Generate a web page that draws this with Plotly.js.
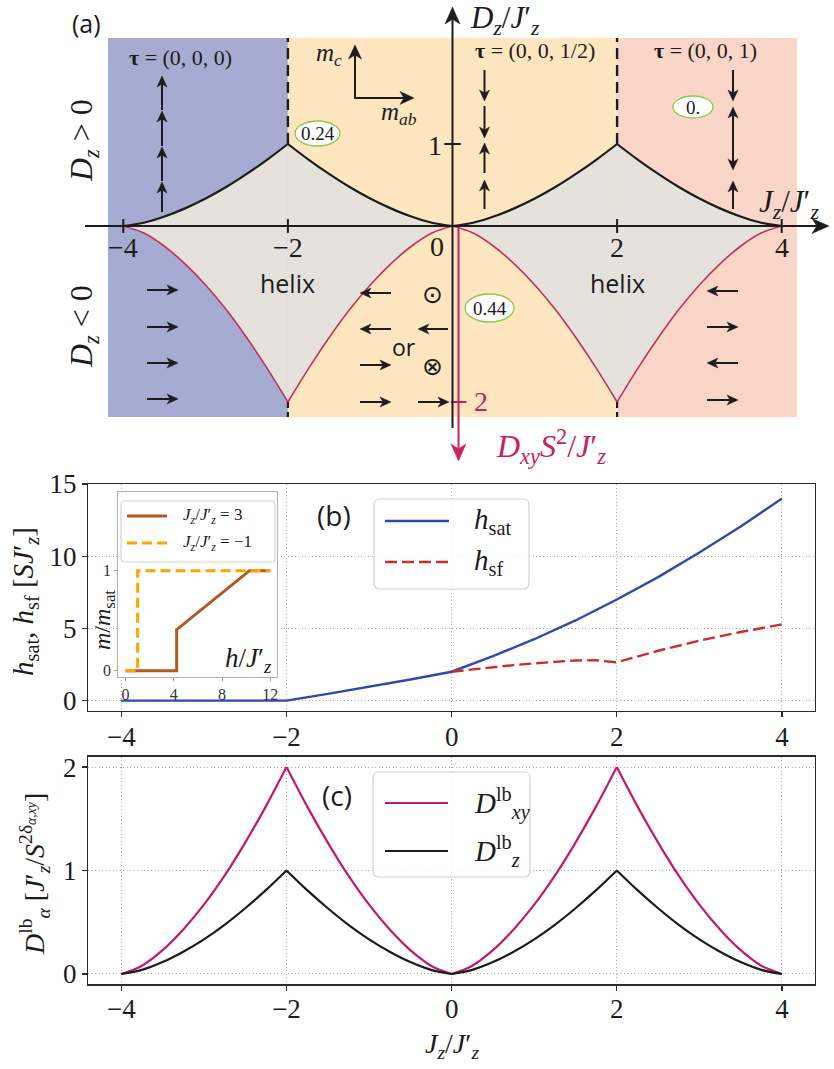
<!DOCTYPE html>
<html>
<head>
<meta charset="utf-8">
<script src="https://cdn.plot.ly/plotly-3.0.1.min.js"></script>
<style>
  html, body { margin: 0; padding: 0; background: #fff; }
  #fig { width: 834px; height: 1069px; }
</style>
</head>
<body>
<div id="fig"></div>
<script>
// ---------------- data ----------------
// J_z / J'_z grid shared by the phase boundaries (a) and the lower bounds (c)
const jz = [-4, -3.75, -3.5, -3.25, -3, -2.75, -2.5, -2.25, -2, -1.75, -1.5, -1.25, -1, -0.75, -0.5, -0.25,
            0, 0.25, 0.5, 0.75, 1, 1.25, 1.5, 1.75, 2, 2.25, 2.5, 2.75, 3, 3.25, 3.5, 3.75, 4];
// lower bound of D_z (upper helix boundary in (a))
const dzLb = [0, 0.04, 0.115, 0.215, 0.335, 0.475, 0.635, 0.81, 1.0, 0.81, 0.635, 0.475, 0.335, 0.215, 0.115, 0.04,
              0, 0.04, 0.115, 0.215, 0.335, 0.475, 0.635, 0.81, 1.0, 0.81, 0.635, 0.475, 0.335, 0.215, 0.115, 0.04, 0];
// lower bound of D_xy S^2 (lower helix boundary in (a))
const dxyLb = [0, 0.08, 0.23, 0.43, 0.67, 0.95, 1.27, 1.62, 2.0, 1.62, 1.27, 0.95, 0.67, 0.43, 0.23, 0.08,
               0, 0.08, 0.23, 0.43, 0.67, 0.95, 1.27, 1.62, 2.0, 1.62, 1.27, 0.95, 0.67, 0.43, 0.23, 0.08, 0];
// monotone pieces between the cusps (index ranges into jz)
const pieces = [[0, 8], [8, 16], [16, 24], [24, 32]];

// saturation and spin-flop fields, panel (b)
const jzSat = [-4, -3, -2, -1.5, -1, -0.5, 0, 0.5, 1, 1.5, 2, 2.5, 3, 3.5, 4];
const hSat  = [0, 0, 0, 0.47, 0.95, 1.46, 2.0, 3.08, 4.25, 5.55, 7.0, 8.55, 10.25, 12.05, 14.0];
const jzSf  = [0, 0.25, 0.5, 0.75, 1, 1.25, 1.5, 1.75, 2, 2.5, 3, 3.5, 4];
const hSf   = [2.0, 2.17, 2.32, 2.46, 2.58, 2.69, 2.78, 2.79, 2.65, 3.45, 4.15, 4.75, 5.28];

// magnetisation curves of the inset
const hJ3  = [0, 4.24, 4.24, 10.28, 12];   // J_z/J'_z = 3
const mJ3  = [0, 0, 0.41, 1, 1];
const hJm1 = [0, 1, 1, 12];                // J_z/J'_z = -1
const mJm1 = [0, 0, 1, 1];

// tick values and labels
const jzTicks = [-4, -2, 0, 2, 4];
const jzTickText = ['\u22124', '\u22122', '0', '2', '4'];
const hTicks = [0, 5, 10, 15];
const dTicks = [0, 1, 2];
const insetHTicks = [0, 4, 8, 12];
const insetMTicks = [0, 1];

// ---------------- styling ----------------
const SERIF = '"Liberation Serif", "DejaVu Serif", serif';
const SANS = '"Open Sans", "DejaVu Sans", sans-serif';
const INK = '#1c1c1c';
const GRAY = '#e5e2db', BLUE_BG = '#a6abd1', ORANGE_BG = '#fee6c0', PINK_BG = '#fad6c8';
const CRIMSON = '#c4305e', AXIS_PINK = '#c8205f', GREEN = '#8cc84b';
const BLUE = '#2e4aab', RED = '#cf2a2a', BROWN = '#b4581f', ORANGE = '#ffa500', MAG = '#c21a6a';

const W = 834, H = 1069;
const X = v => v / W;        // pixel column -> paper x
const Y = v => 1 - v / H;    // pixel row -> paper y

function txt(x, y, text, size, extra) {
  return Object.assign({
    xref: 'paper', yref: 'paper', x: X(x), y: Y(y), text: text, showarrow: false,
    xanchor: 'center', yanchor: 'middle',
    font: {family: SERIF, size: size, color: INK}
  }, extra || {});
}
// arrow from tail (tx,ty) to head (hx,hy) in page pixels: a shaft plus a notched, filled head
function arrow(tx, ty, hx, hy, opt) {
  opt = opt || {};
  const color = opt.color || INK, width = opt.width || 2, L = opt.len || 11, w = opt.half || 5;
  const n = Math.hypot(hx - tx, hy - ty), dx = (hx - tx) / n, dy = (hy - ty) / n;
  const bx = hx - L * dx, by = hy - L * dy;
  const nx = hx - 0.72 * L * dx, ny = hy - 0.72 * L * dy;
  const c1x = bx - w * dy, c1y = by + w * dx, c2x = bx + w * dy, c2y = by - w * dx;
  const p = (a, b) => X(a) + ',' + Y(b);
  return [
    {type: 'line', xref: 'paper', yref: 'paper', layer: 'above',
     x0: X(tx), y0: Y(ty), x1: X(nx), y1: Y(ny), line: {color: color, width: width}},
    {type: 'path', xref: 'paper', yref: 'paper', layer: 'above',
     path: 'M' + p(hx, hy) + 'L' + p(c1x, c1y) + 'L' + p(nx, ny) + 'L' + p(c2x, c2y) + 'Z',
     fillcolor: color, line: {color: color, width: 0.5}}
  ];
}
function roundBox(x0, y0, x1, y1, r) {
  const p = (a, b) => X(a) + ',' + Y(b);
  return {
    type: 'path', xref: 'paper', yref: 'paper', layer: 'above',
    path: 'M' + p(x0 + r, y0) + 'L' + p(x1 - r, y0) + 'Q' + p(x1, y0) + ' ' + p(x1, y0 + r) +
          'L' + p(x1, y1 - r) + 'Q' + p(x1, y1) + ' ' + p(x1 - r, y1) +
          'L' + p(x0 + r, y1) + 'Q' + p(x0, y1) + ' ' + p(x0, y1 - r) +
          'L' + p(x0, y0 + r) + 'Q' + p(x0, y0) + ' ' + p(x0 + r, y0) + 'Z',
    line: {color: '#d4d4d4', width: 1.2}, fillcolor: 'rgba(255,255,255,0.85)'
  };
}
function seg(x0, y0, x1, y1, color, width, dash) {
  return {type: 'line', xref: 'paper', yref: 'paper', layer: 'above',
          x0: X(x0), y0: Y(y0), x1: X(x1), y1: Y(y1),
          line: {color: color, width: width, dash: dash || 'solid'}};
}
function oval(x0, y0, x1, y1) {
  return {type: 'circle', xref: 'paper', yref: 'paper', layer: 'above',
          x0: X(x0), y0: Y(y1), x1: X(x1), y1: Y(y0),
          line: {color: GREEN, width: 1.3}, fillcolor: '#ffffff'};
}

// ---------------- traces ----------------
const traces = [];
// (a) helix region bounded by D_z^lb (above the axis) and D_xy^lb (below)
pieces.forEach(function (r) {
  traces.push({x: jz.slice(r[0], r[1] + 1), y: dzLb.slice(r[0], r[1] + 1), xaxis: 'x', yaxis: 'y',
               mode: 'lines', fill: 'tozeroy', fillcolor: GRAY, hoverinfo: 'skip', name: 'D_z^lb boundary',
               line: {color: INK, width: 2.2, shape: 'spline', smoothing: 1}});
  traces.push({x: jz.slice(r[0], r[1] + 1), y: dxyLb.slice(r[0], r[1] + 1), xaxis: 'x', yaxis: 'y2',
               mode: 'lines', fill: 'tozeroy', fillcolor: GRAY, hoverinfo: 'skip', name: 'D_xy^lb boundary',
               line: {color: CRIMSON, width: 1.6, shape: 'spline', smoothing: 1}});
});
// (b)
traces.push({x: jzSat, y: hSat, xaxis: 'x2', yaxis: 'y3', mode: 'lines', name: 'h_sat',
             line: {color: BLUE, width: 2.4}});
traces.push({x: jzSf, y: hSf, xaxis: 'x2', yaxis: 'y3', mode: 'lines', name: 'h_sf',
             line: {color: RED, width: 2.4, dash: '12px,5px'}});
// inset
traces.push({x: hJ3, y: mJ3, xaxis: 'x3', yaxis: 'y4', mode: 'lines', name: "Jz/Jz' = 3",
             line: {color: BROWN, width: 3}});
traces.push({x: hJm1, y: mJm1, xaxis: 'x3', yaxis: 'y4', mode: 'lines', name: "Jz/Jz' = -1",
             line: {color: ORANGE, width: 3, dash: '10px,5px'}});
// (c)
pieces.forEach(function (r) {
  traces.push({x: jz.slice(r[0], r[1] + 1), y: dxyLb.slice(r[0], r[1] + 1), xaxis: 'x4', yaxis: 'y5',
               mode: 'lines', name: 'D_xy^lb', line: {color: MAG, width: 2.2, shape: 'spline', smoothing: 1}});
});
pieces.forEach(function (r) {
  traces.push({x: jz.slice(r[0], r[1] + 1), y: dzLb.slice(r[0], r[1] + 1), xaxis: 'x4', yaxis: 'y5',
               mode: 'lines', name: 'D_z^lb', line: {color: INK, width: 2.2, shape: 'spline', smoothing: 1}});
});

// ---------------- axes ----------------
const frameAxis = {
  showline: true, mirror: true, linecolor: '#2b2b2b', linewidth: 1.4,
  ticks: 'outside', ticklen: 5, tickwidth: 1.3, tickcolor: '#2b2b2b',
  showgrid: true, gridcolor: '#a8a8a8', griddash: '1px,2.5px', gridwidth: 1, zeroline: false,
  tickfont: {family: SERIF, size: 27, color: INK}, fixedrange: true
};
const insetAxis = {
  showline: true, mirror: true, linecolor: '#b0b0b0', linewidth: 1,
  ticks: 'outside', ticklen: 3, tickwidth: 1, tickcolor: '#999',
  showgrid: false, zeroline: false,
  tickfont: {family: SERIF, size: 16, color: '#333'}, fixedrange: true
};

const layout = {
  width: W, height: H, margin: {l: 0, r: 0, t: 0, b: 0},
  paper_bgcolor: '#fff', plot_bgcolor: '#fff', showlegend: false,
  // (a) phase diagram: horizontal J_z, upward D_z, downward D_xy S^2
  xaxis:  {domain: [0, 1], range: [-5.4982, 4.6355], visible: false, fixedrange: true},
  yaxis:  {domain: [0.56034, 1], range: [-2.9756, 2.7561], visible: false, fixedrange: true},
  yaxis2: {overlaying: 'y', anchor: 'x', range: [2.7727, -2.5682], visible: false, fixedrange: true},
  // (b)
  xaxis2: Object.assign({}, frameAxis, {domain: [0.10588, 0.97722], range: [-4.4, 4.4], anchor: 'y3',
          tickvals: jzTicks, ticktext: jzTickText, ticklabelstandoff: -4}),
  yaxis3: Object.assign({}, frameAxis, {domain: [0.33517, 0.54724], range: [-0.7, 15], anchor: 'x2',
          tickvals: hTicks}),
  // inset of (b)
  xaxis3: Object.assign({}, insetAxis, {domain: [0.14185, 0.33273], range: [-0.6, 12.6], anchor: 'y4',
          tickvals: insetHTicks}),
  yaxis4: Object.assign({}, insetAxis, {domain: [0.36698, 0.54004], range: [-0.06, 1.79], anchor: 'x3',
          tickvals: insetMTicks}),
  // (c)
  xaxis4: Object.assign({}, frameAxis, {domain: [0.10588, 0.97722], range: [-4.4, 4.4], anchor: 'y5',
          tickvals: jzTicks, ticktext: jzTickText, ticklabelstandoff: -5}),
  yaxis5: Object.assign({}, frameAxis, {domain: [0.07923, 0.29214], range: [-0.1, 2.1], anchor: 'x4',
          tickvals: dTicks}),
  shapes: [], annotations: []
};

const S = layout.shapes, A = layout.annotations;
const addArrow = function () { arrow.apply(null, arguments).forEach(function (s) { S.push(s); }); };

// ---- (a) coloured phase regions ----
const regionTop = Y(38), regionBottom = Y(417);
S.push({type: 'rect', xref: 'x', yref: 'paper', layer: 'below', x0: -4.186, x1: -2, y0: regionBottom, y1: regionTop,
        fillcolor: BLUE_BG, line: {width: 0}});
S.push({type: 'rect', xref: 'x', yref: 'paper', layer: 'below', x0: -2, x1: 2, y0: regionBottom, y1: regionTop,
        fillcolor: ORANGE_BG, line: {width: 0}});
S.push({type: 'rect', xref: 'x', yref: 'paper', layer: 'below', x0: 2, x1: 4.186, y0: regionBottom, y1: regionTop,
        fillcolor: PINK_BG, line: {width: 0}});

// dashed phase borders at J_z = +-2
[-2, 2].forEach(function (v) {
  S.push({type: 'line', xref: 'x', yref: 'y', layer: 'above', x0: v, x1: v, y0: 1, y1: 2.293,
          line: {color: INK, width: 2.4, dash: '11px,6px'}});
  S.push({type: 'line', xref: 'x', yref: 'y2', layer: 'above', x0: v, x1: v, y0: 2, y1: 2.17,
          line: {color: INK, width: 2.2, dash: '6px,4px'}});
});

// axis ticks of (a)
[-4, -2, 2, 4].forEach(function (v) {
  S.push({type: 'line', xref: 'x', yref: 'y', layer: 'above', x0: v, x1: v, y0: -0.085, y1: 0.085,
          line: {color: INK, width: 2}});
});
S.push({type: 'line', xref: 'x', yref: 'y', layer: 'above', x0: -0.1, x1: 0.1, y0: 1, y1: 1,
        line: {color: INK, width: 2}});
S.push({type: 'line', xref: 'x', yref: 'y2', layer: 'above', x0: -0.02, x1: 0.17, y0: 2, y1: 2,
        line: {color: AXIS_PINK, width: 2}});

// axes with arrow heads
addArrow(85, 226, 829, 226, {len: 17, half: 7.5});
addArrow(452.5, 428, 452.5, 7, {len: 17, half: 7.5});
addArrow(458.5, 227, 458.5, 461, {len: 17, half: 7.5, color: AXIS_PINK});
// m_c / m_ab frame
addArrow(355, 99, 355, 45, {len: 14, half: 6.5});
addArrow(354, 98, 414, 98, {len: 14, half: 6.5});

// spin arrows, D_z > 0
[[212, 182], [181, 147], [146, 111], [110, 76]].forEach(function (p) { addArrow(162, p[0], 162, p[1]); });
[[70, 101], [106, 138], [173, 143], [209, 180]].forEach(function (p) { addArrow(484.5, p[0], 484.5, p[1]); });
[[70, 101], [138, 107], [138, 170], [209, 181]].forEach(function (p) { addArrow(733, p[0], 733, p[1]); });
// spin arrows, D_z < 0
[290, 327, 363, 399].forEach(function (y) { addArrow(147, y, 178, y); });
addArrow(391, 293, 360, 293); addArrow(391, 329, 360, 329);
addArrow(360, 365, 391, 365); addArrow(360, 402, 391, 402);
addArrow(448, 329, 418, 329); addArrow(418, 402, 449, 402);
addArrow(738, 291, 707, 291); addArrow(707, 327, 738, 327);
addArrow(738, 363, 707, 363); addArrow(707, 400, 738, 400);

// tick labels of (a)
[-4, -2, 2, 4].forEach(function (v, i) {
  A.push({xref: 'x', yref: 'paper', x: v, y: Y(247), text: ['\u22124', '\u22122', '2', '4'][i], showarrow: false,
          xanchor: 'center', yanchor: 'middle', font: {family: SERIF, size: 28, color: INK}});
});
A.push(txt(437, 246, '0', 28));
A.push(txt(435, 145, '1', 28));
A.push(txt(481, 401, '2', 28, {font: {family: SERIF, size: 28, color: AXIS_PINK}}));

// axis names of (a)
A.push(txt(505, 20, '<i>D<sub>z</sub></i>/<i>J</i>\u2032<sub><i>z</i></sub>', 31));
A.push(txt(789, 204, '<i>J<sub>z</sub></i>/<i>J</i>\u2032<sub><i>z</i></sub>', 31));
A.push(txt(551, 446, '<i>D<sub>xy</sub>S</i><sup>2</sup>/<i>J</i>\u2032<sub><i>z</i></sub>', 32,
           {font: {family: SERIF, size: 32, color: AXIS_PINK}}));

// region texts
A.push(txt(86, 23, '(a)', 25, {font: {family: SANS, size: 25, color: INK}}));
A.push(txt(83, 141, '<i>D<sub>z</sub></i> > 0', 32, {textangle: -90}));
A.push(txt(83, 327, '<i>D<sub>z</sub></i> < 0', 32, {textangle: -90}));
A.push(txt(180, 58, '<b>\u03c4</b> = (0, 0, 0)', 22));
A.push(txt(535, 51, '<b>\u03c4</b> = (0, 0, 1/2)', 22));
A.push(txt(705, 51, '<b>\u03c4</b> = (0, 0, 1)', 22));
A.push(txt(329, 54, '<i>m<sub>c</sub></i>', 25));
A.push(txt(399, 114, '<i>m<sub>ab</sub></i>', 25));
A.push(txt(287, 283, 'helix', 25, {font: {family: SANS, size: 25, color: INK}}));
A.push(txt(617, 283, 'helix', 25, {font: {family: SANS, size: 25, color: INK}}));
A.push(txt(404, 347, 'or', 23, {font: {family: SANS, size: 23, color: INK}}));
A.push(txt(432, 294, '\u2299', 25, {font: {family: '"DejaVu Sans", sans-serif', size: 25, color: INK}}));
A.push(txt(432, 366, '\u2297', 25, {font: {family: '"DejaVu Sans", sans-serif', size: 25, color: INK}}));

// value tags
S.push(oval(295, 121, 340, 146)); A.push(txt(317.5, 133.5, '0.24', 19));
S.push(oval(673, 96, 713, 118));  A.push(txt(693, 107, '0.', 19));
S.push(oval(465, 294, 514, 322)); A.push(txt(489.5, 308, '0.44', 19));

// ---- (b) ----
A.push(txt(334, 515, '(b)', 28, {font: {family: SANS, size: 28, color: INK}}));
A.push(txt(25, 602, '<i>h</i><sub>sat</sub>, <i>h</i><sub>sf</sub> [<i>SJ</i>\u2032<sub><i>z</i></sub>]', 29, {textangle: -90}));
S.push(roundBox(374, 499, 529, 589, 6));
S.push(seg(385, 521, 449, 521, BLUE, 2.4));
S.push(seg(385, 562, 449, 562, RED, 2.4, '12px,5px'));
A.push(txt(472, 521, '<i>h</i><sub>sat</sub>', 29, {xanchor: 'left'}));
A.push(txt(472, 562, '<i>h</i><sub>sf</sub>', 29, {xanchor: 'left'}));

// inset legend and labels
S.push(roundBox(121, 501, 275, 562, 4));
S.push(seg(127, 516, 167, 516, BROWN, 3));
S.push(seg(127, 543, 167, 543, ORANGE, 3, '10px,5px'));
A.push(txt(181, 516, '<i>J<sub>z</sub></i>/<i>J</i>\u2032<sub><i>z</i></sub> = 3', 17, {xanchor: 'left'}));
A.push(txt(181, 543, '<i>J<sub>z</sub></i>/<i>J</i>\u2032<sub><i>z</i></sub> = \u22121', 17, {xanchor: 'left'}));
A.push(txt(249, 660, '<i>h</i>/<i>J</i>\u2032<sub><i>z</i></sub>', 27));
A.push(txt(104, 620, '<i>m</i>/<i>m</i><sub>sat</sub>', 24, {textangle: -90}));

// ---- (c) ----
A.push(txt(337, 795, '(c)', 28, {font: {family: SANS, size: 28, color: INK}}));
A.push(txt(34, 874, '<i>D</i><sup>lb</sup><sub><i>\u03b1</i></sub> [<i>J</i>\u2032<sub><i>z</i></sub>/<i>S</i><sup>2\u03b4<sub><i>\u03b1,xy</i></sub></sup>]', 28, {textangle: -90}));
A.push(txt(452, 1045, '<i>J<sub>z</sub></i>/<i>J</i>\u2032<sub><i>z</i></sub>', 28));
S.push(roundBox(373, 772, 530, 877, 6));
S.push(seg(385, 803, 448, 803, MAG, 2.2));
S.push(seg(385, 851, 448, 851, INK, 2.2));
A.push(txt(472, 803, '<i>D</i><sup>lb</sup><sub><i>xy</i></sub>', 29, {xanchor: 'left'}));
A.push(txt(472, 851, '<i>D</i><sup>lb</sup><sub><i>z</i></sub>', 29, {xanchor: 'left'}));

Plotly.newPlot('fig', traces, layout, {staticPlot: true, displayModeBar: false});
</script>
</body>
</html>
